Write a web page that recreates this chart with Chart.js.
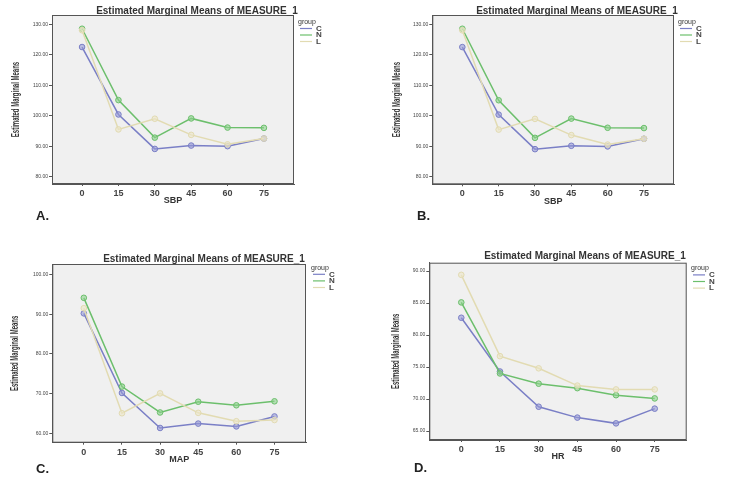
<!DOCTYPE html>
<html>
<head>
<meta charset="utf-8">
<script src="https://cdn.jsdelivr.net/npm/chart.js@4"></script>
<style>
  body { margin: 0; background: #fff; }
  #wrap { position: relative; width: 755px; height: 502px; }
  canvas { position: absolute; }
</style>
</head>
<body>
<div id="wrap">
  <canvas id="chartA" width="375" height="250" style="left:0;top:0"></canvas>
  <canvas id="chartB" width="380" height="250" style="left:375px;top:0"></canvas>
  <canvas id="chartC" width="375" height="252" style="left:0;top:250px"></canvas>
  <canvas id="chartD" width="380" height="252" style="left:375px;top:250px"></canvas>
</div>
<script>
// Datos
const timePoints = [0, 15, 30, 45, 60, 75];
const groups = ["C", "N", "L"];

const sbpC = [122.5, 100.4, 89.1, 90.2, 90.0, 92.5];
const sbpN = [128.5, 105.1, 92.8, 99.1, 96.1, 96.0];
const sbpL = [128.0, 95.5, 99.0, 93.7, 90.6, 92.5];

const mapC = [90.2, 70.2, 61.4, 62.5, 61.8, 64.3];
const mapN = [94.1, 71.8, 65.3, 68.0, 67.1, 68.1];
const mapL = [91.5, 65.1, 70.1, 65.2, 63.1, 63.4];

const hrC = [82.7, 74.3, 68.8, 67.1, 66.2, 68.5];
const hrN = [85.1, 74.0, 72.4, 71.7, 70.6, 70.1];
const hrL = [89.4, 76.7, 74.8, 72.1, 71.5, 71.5];

const sbpTicks = [80, 90, 100, 110, 120, 130];
const mapTicks = [60, 70, 80, 90, 100];
const hrTicks = [65, 70, 75, 80, 85, 90];

const titleText = "Estimated Marginal Means of MEASURE_1";
const yTitle = "Estimated Marginal Means";

const lineColors = ["#7a7fc6", "#6cbf6c", "#e2dbb2"];
const pointFill = ["rgba(150,154,215,0.6)", "rgba(140,210,140,0.6)", "rgba(236,230,200,0.6)"];

// Plugin: fondo, borde, titulos, leyenda y letra del panel
const panelDeco = {
  id: "panelDeco",
  beforeDraw(chart, args, o) {
    const { ctx, chartArea: a } = chart;
    ctx.save();
    ctx.fillStyle = "#f0f0f0";
    ctx.fillRect(a.left, a.top, a.right - a.left, a.bottom - a.top);
    ctx.restore();
  },
  afterDraw(chart, args, o) {
    const { ctx, chartArea: a } = chart;
    ctx.save();
    ctx.strokeStyle = "#555";
    ctx.lineWidth = 1;
    ctx.strokeRect(a.left + 0.5, a.top + 0.5, a.right - a.left - 1, a.bottom - a.top - 1);

    ctx.fillStyle = "#333";
    ctx.font = "bold 10px 'Liberation Sans', Arial, sans-serif";
    ctx.textAlign = "center";
    ctx.textBaseline = "middle";
    ctx.fillText(titleText, o.title[0], o.title[1]);

    // titulo del eje Y, estrecho como en SPSS
    ctx.save();
    ctx.translate(o.yTitleX, (a.top + a.bottom) / 2);
    ctx.rotate(-Math.PI / 2);
    ctx.scale(0.6, 1);
    ctx.font = "bold 10px 'Liberation Sans', Arial, sans-serif";
    ctx.fillText(yTitle, 0, 0);
    ctx.restore();

    ctx.textAlign = "left";
    ctx.font = "7px 'Liberation Sans', Arial, sans-serif";
    ctx.fillText("group", o.legend[0], o.legend[1]);
    ctx.font = "bold 8px 'Liberation Sans', Arial, sans-serif";
    groups.forEach((g, i) => {
      const y = o.legend[1] + o.legendDy * (i + 1);
      ctx.strokeStyle = lineColors[i];
      ctx.lineWidth = 1.2;
      ctx.beginPath();
      ctx.moveTo(o.legend[0] + 2, y);
      ctx.lineTo(o.legend[0] + 14, y);
      ctx.stroke();
      ctx.fillStyle = "#444";
      ctx.fillText(g, o.legend[0] + 18, y);
    });

    ctx.fillStyle = "#222";
    ctx.font = "bold 13px 'Liberation Sans', Arial, sans-serif";
    ctx.fillText(o.letter, o.letterPos[0], o.letterPos[1]);
    ctx.restore();
  }
};

function makePanel(id, cfg) {
  const series = [cfg.c, cfg.n, cfg.l];
  new Chart(document.getElementById(id), {
    type: "line",
    data: {
      datasets: series.map((vals, i) => ({
        label: groups[i],
        data: timePoints.map((t, k) => ({ x: t, y: vals[k] })),
        borderColor: lineColors[i],
        backgroundColor: pointFill[i],
        pointBorderColor: lineColors[i],
        borderWidth: 1.5,
        pointRadius: 2.8,
        pointBorderWidth: 1,
        tension: 0,
      })).reverse(),
    },
    options: {
      responsive: false,
      animation: false,
      layout: { padding: cfg.padding },
      plugins: {
        legend: { display: false },
        tooltip: { enabled: false },
        panelDeco: cfg.deco,
      },
      scales: {
        x: {
          type: "linear",
          min: -12.4,
          max: 87.4,
          afterBuildTicks: (s) => { s.ticks = timePoints.map((v) => ({ value: v })); },
          afterFit: (s) => { s.height = 22.4; },
          grid: { drawOnChartArea: false, tickLength: 2, color: "#555" },
          border: { color: "#555" },
          ticks: {
            padding: 2,
            color: "#444",
            font: { size: 9, weight: "bold", family: "'Liberation Sans', Arial, sans-serif" },
          },
          title: {
            display: true,
            text: cfg.xTitle,
            padding: 0,
            color: "#333",
            font: { size: 9, weight: "bold", family: "'Liberation Sans', Arial, sans-serif" },
          },
        },
        y: {
          min: cfg.yMin,
          max: cfg.yMax,
          afterBuildTicks: (s) => { s.ticks = cfg.yTicks.map((v) => ({ value: v })); },
          afterFit: (s) => { s.width = cfg.yWidth; },
          grid: { drawOnChartArea: false, tickLength: 3, color: "#555" },
          border: { color: "#555" },
          ticks: {
            padding: 1,
            color: "#444",
            font: { size: 5, family: "'Liberation Sans', Arial, sans-serif" },
            callback: (v) => v.toFixed(2),
          },
          title: { display: false },
        },
      },
    },
    plugins: [panelDeco],
  });
}

makePanel("chartA", {
  c: sbpC, n: sbpN, l: sbpL, xTitle: "SBP",
  yMin: 77.6, yMax: 133, yTicks: sbpTicks, yWidth: 41,
  padding: { left: 11, top: 15, right: 81, bottom: 43.6 },
  deco: { title: [197, 11], yTitleX: 16, legend: [298, 22], legendDy: 6.5, letter: "A.", letterPos: [36, 216] },
});

makePanel("chartB", {
  c: sbpC, n: sbpN, l: sbpL, xTitle: "SBP",
  yMin: 77.6, yMax: 133, yTicks: sbpTicks, yWidth: 40.3,
  padding: { left: 17, top: 15, right: 81, bottom: 43.3 },
  deco: { title: [202, 11], yTitleX: 22, legend: [303, 22], legendDy: 6.5, letter: "B.", letterPos: [42, 216] },
});

makePanel("chartC", {
  c: mapC, n: mapN, l: mapL, xTitle: "MAP",
  yMin: 57.7, yMax: 102.6, yTicks: mapTicks, yWidth: 42.3,
  padding: { left: 10, top: 14, right: 69, bottom: 36.9 },
  deco: { title: [204, 9.3], yTitleX: 15, legend: [311, 17.7], legendDy: 6.6, letter: "C.", letterPos: [36, 219] },
});

makePanel("chartD", {
  c: hrC, n: hrN, l: hrL, xTitle: "HR",
  yMin: 63.6, yMax: 91.3, yTicks: hrTicks, yWidth: 37.6,
  padding: { left: 16.7, top: 12.7, right: 68.3, bottom: 39.6 },
  deco: { title: [210, 6.7], yTitleX: 21.7, legend: [316, 18.3], legendDy: 6.6, letter: "D.", letterPos: [39, 218] },
});
</script>
</body>
</html>
